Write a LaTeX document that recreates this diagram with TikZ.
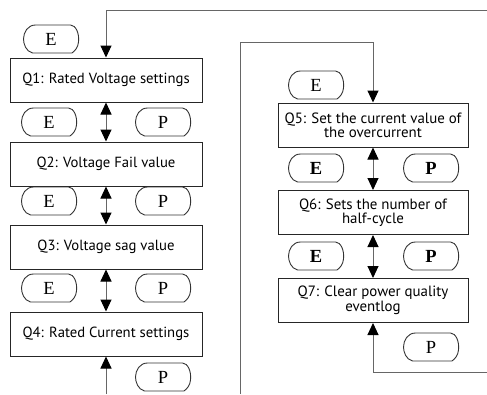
\documentclass[tikz,border=0pt]{standalone}
\usepackage{fontspec}
\setmainfont{Liberation Serif}
\newfontfamily\boxfont{PT Sans}
\usetikzlibrary{arrows.meta}
\begin{document}
\begin{tikzpicture}[x=1pt,y=-1pt,
  qbox/.style={draw=black!85, line width=1pt, fill=white, minimum height=44pt, inner sep=1pt,
     align=center, font=\boxfont\fontsize{14.7}{12}\selectfont},
  lbox/.style={qbox, minimum width=192pt},
  rbox/.style={qbox, minimum width=190pt, font=\boxfont\fontsize{14.9}{12}\selectfont},
  letter/.style={inner sep=0pt, font=\fontsize{18.5}{18}\selectfont},
  bletter/.style={letter, font=\fontsize{18.5}{18}\selectfont\bfseries},
  conn/.style={draw=black!60, line width=1pt},
  tipshape/.style={},
  tip/.style={-{Triangle[length=12pt,width=11pt,color=black]}},
  dtip/.style={{Triangle[length=12pt,width=11pt,color=black]}-{Triangle[length=12pt,width=11pt,color=black]}},
  bubble/.pic={\draw[black!80, line width=0.9pt] (-15.5,-14) -- (19.5,-14)
     .. controls (25,-14) and (28.5,-5) .. (27.5,3) .. controls (27,8) and (24.5,11.5) .. (21,14)
     -- (-18.5,14) .. controls (-25,12.5) and (-27.5,5) .. (-27.5,0) .. controls (-27.5,-7) and (-23,-14) .. (-15.5,-14) -- cycle;}
]
\useasboundingbox (0,0) rectangle (487,394);

% left column boxes
\node[lbox] (q1) at (106,80) {Q1: Rated Voltage settings};
\node[lbox] (q2) at (106,164) {Q2: Voltage Fail value};
\node[lbox] (q3) at (106,247) {Q3: Voltage sag value};
\node[lbox] (q4) at (106,334) {Q4: Rated Current settings};

% right column boxes
\node[rbox] (q5) at (373,125) {Q5: Set the current value of\\the overcurrent};
\node[rbox] (q6) at (373,212.5) {Q6: Sets the number of\\half-cycle};
\node[rbox] (q7) at (373,300.5) {Q7: Clear power quality\\eventlog};

% coordinates for free ends
\coordinate (tr) at (487,10);
\coordinate (tl) at (106,10);
\coordinate (lb) at (106,394);
\coordinate (rb) at (240,394);
\coordinate (rt1) at (240,42);
\coordinate (rt2) at (373,42);
\coordinate (br) at (487,372);
\coordinate (bl) at (373,372);

% connectors
\draw[conn,tip] (tr) -- (tl) -- (q1.north);
\draw[conn,dtip] (q1.south) -- (q2.north);
\draw[conn,dtip] (q2.south) -- (q3.north);
\draw[conn,dtip] (q3.south) -- (q4.north);
\draw[conn,tip] (lb) -- (q4.south);
\draw[conn,tip] (rb) -- (rt1) -- (rt2) -- (q5.north);
\draw[conn,dtip] (q5.south) -- (q6.north);
\draw[conn,dtip] (q6.south) -- (q7.north);
\draw[conn,tip] (br) -- (bl) -- (q7.south);

% bubbles left
\node[letter] (e0) at (51,39) {E};   \pic at (e0) {bubble};
\node[letter] (e1) at (49,122) {E};  \pic at (e1) {bubble};
\node[letter] (p1) at (163,122) {P}; \pic at (p1) {bubble};
\node[letter] (e2) at (49,201) {E};  \pic at (e2) {bubble};
\node[letter] (p2) at (163,201) {P}; \pic at (p2) {bubble};
\node[letter] (e3) at (49,288) {E};  \pic at (e3) {bubble};
\node[letter] (p3) at (163,288) {P}; \pic at (p3) {bubble};
\node[letter] (p4) at (163,377) {P}; \pic at (p4) {bubble};

% bubbles right
\node[letter] (e5) at (316,85) {E};    \pic at (e5) {bubble};
\node[bletter] (e6) at (316,168) {E};  \pic at (e6) {bubble};
\node[bletter] (p6) at (431,168) {P};  \pic at (p6) {bubble};
\node[bletter] (e7) at (316,256) {E};  \pic at (e7) {bubble};
\node[bletter] (p7) at (431,256) {P};  \pic at (p7) {bubble};
\node[letter] (p8) at (431,347) {P};   \pic at (p8) {bubble};
\end{tikzpicture}
\end{document}
